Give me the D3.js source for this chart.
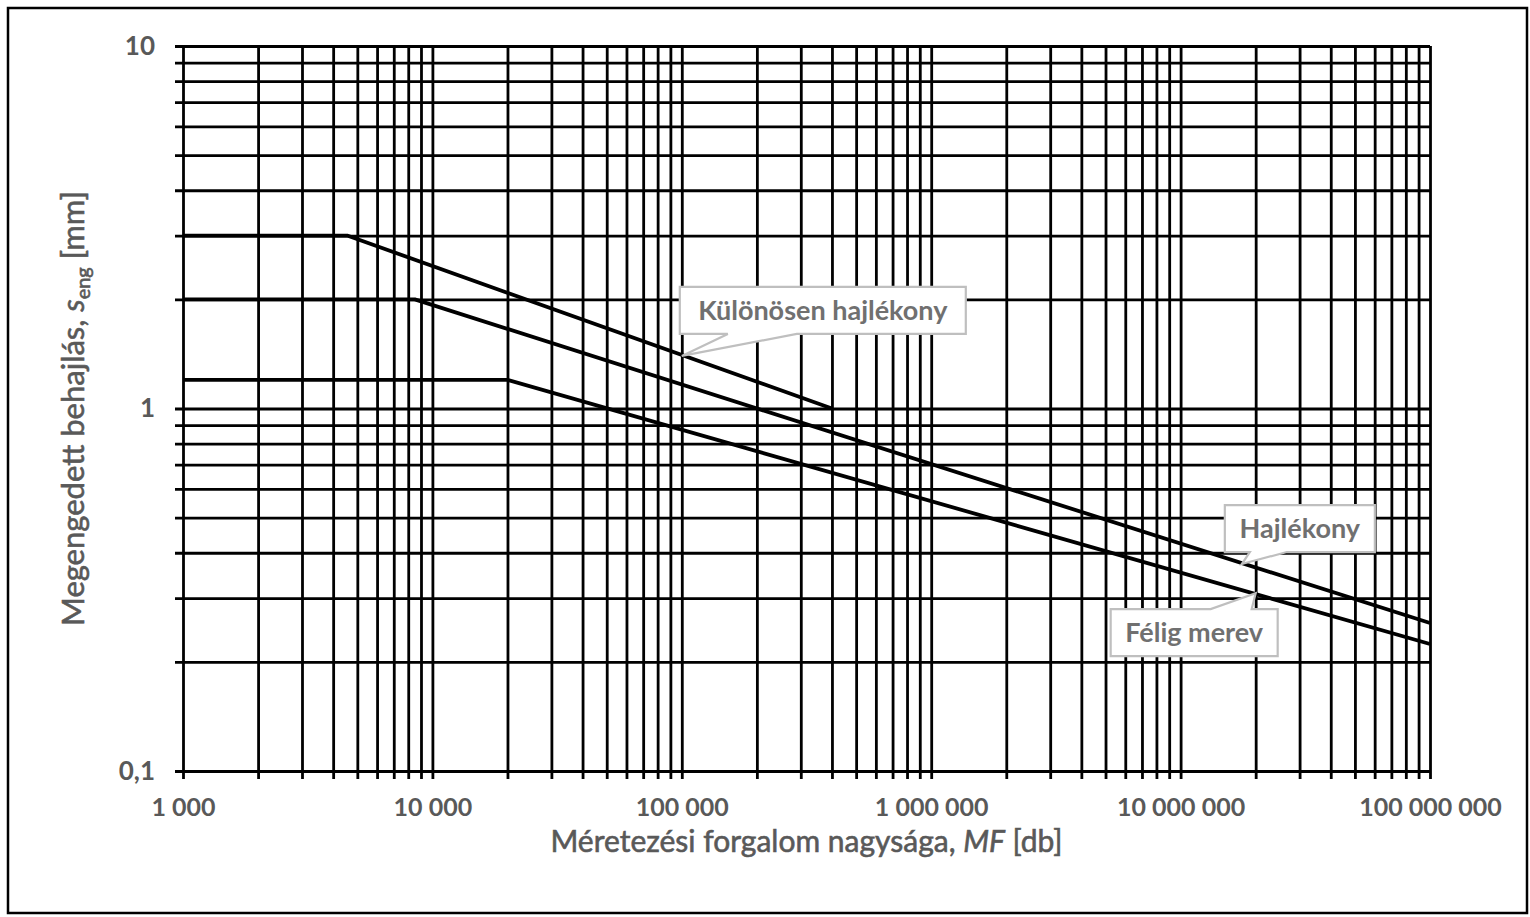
<!DOCTYPE html>
<html>
<head>
<meta charset="utf-8">
<script src="https://cdn.jsdelivr.net/npm/d3@7"></script>
<style>
  html, body { margin: 0; padding: 0; background: #fff; }
  svg { display: block; }
  text { font-family: Lato, "Open Sans", sans-serif; }
</style>
</head>
<body>
<svg id="chart" width="1530" height="917"></svg>
<script>
// ---- data ----
const xTickValues = [1e3, 2e3, 3e3, 4e3, 5e3, 6e3, 7e3, 8e3, 9e3,
  1e4, 2e4, 3e4, 4e4, 5e4, 6e4, 7e4, 8e4, 9e4,
  1e5, 2e5, 3e5, 4e5, 5e5, 6e5, 7e5, 8e5, 9e5,
  1e6, 2e6, 3e6, 4e6, 5e6, 6e6, 7e6, 8e6, 9e6,
  1e7, 2e7, 3e7, 4e7, 5e7, 6e7, 7e7, 8e7, 9e7, 1e8];
const xTickLabels = { 1e3: "1 000", 1e4: "10 000", 1e5: "100 000", 1e6: "1 000 000", 1e7: "10 000 000", 1e8: "100 000 000" };
const yTickValues = [0.1, 0.2, 0.3, 0.4, 0.5, 0.6, 0.7, 0.8, 0.9,
  1, 2, 3, 4, 5, 6, 7, 8, 9, 10];
const yTickLabels = { 0.1: "0,1", 1: "1", 10: "10" };

const seriesNames = ["Különösen hajlékony", "Hajlékony", "Félig merev"];
const kulonosenX = [1000, 4550, 400000];
const kulonosenY = [3, 3, 1];
const hajlekonyX = [1000, 8500, 100000000];
const hajlekonyY = [2, 2, 0.256];
const feligX = [1000, 20000, 100000000];
const feligY = [1.2, 1.2, 0.224];

// callout anchor points (data coords of the tail tips)
const calloutTipX = [100000, 17600000, 20000000];

// ---- layout ----
const svg = d3.select("#chart");
const pL = 183, pR = 1430, pT = 46, pB = 771;
const x = d3.scaleLog().domain([1e3, 1e8]).range([pL, pR]);
const y = d3.scaleLog().domain([0.1, 10]).range([pB, pT]);

// outer frame
svg.append("rect").attr("x", 8).attr("y", 8).attr("width", 1519).attr("height", 905)
  .attr("fill", "none").attr("stroke", "#000").attr("stroke-width", 2.5);

const gridW = 2.8;
const tickOut = 8;
const labelColor = "#595959";

// vertical grid lines (x axis)
const xAxis = d3.axisBottom(x)
  .tickValues(xTickValues)
  .tickSize(-(pB - pT + tickOut))
  .tickPadding(19)
  .tickFormat(d => xTickLabels[d] || "");
const gx = svg.append("g").attr("transform", `translate(0,${pB + tickOut})`).call(xAxis);
gx.select(".domain").remove();
gx.selectAll(".tick line").attr("stroke", "#000").attr("stroke-width", gridW);
gx.selectAll(".tick text").attr("fill", labelColor).attr("font-size", 25).attr("font-weight", "bold");

// horizontal grid lines (y axis)
const yAxis = d3.axisLeft(y)
  .tickValues(yTickValues)
  .tickSize(-(pR - pL + tickOut))
  .tickPadding(20)
  .tickFormat(d => yTickLabels[d] || "");
const gy = svg.append("g").attr("transform", `translate(${pL - tickOut},0)`).call(yAxis);
gy.select(".domain").remove();
gy.selectAll(".tick line").attr("stroke", "#000").attr("stroke-width", gridW);
gy.selectAll(".tick text").attr("fill", labelColor).attr("font-size", 26).attr("font-weight", "bold");

// series lines
const line = d3.line().x(d => x(d[0])).y(d => y(d[1]));
const series = [
  d3.zip(kulonosenX, kulonosenY),
  d3.zip(hajlekonyX, hajlekonyY),
  d3.zip(feligX, feligY)
];
svg.append("g").selectAll("path").data(series).join("path")
  .attr("d", line).attr("fill", "none").attr("stroke", "#000")
  .attr("stroke-width", 3.8).attr("stroke-linejoin", "round");

// value along a series (log-linear interpolation of its points)
function valueAt(s, xv) {
  for (let i = 0; i < s.length - 1; i++) {
    const [x0, y0] = s[i], [x1, y1] = s[i + 1];
    if (xv >= x0 && xv <= x1) {
      const t = (Math.log(xv) - Math.log(x0)) / (Math.log(x1) - Math.log(x0));
      return Math.exp(Math.log(y0) + t * (Math.log(y1) - Math.log(y0)));
    }
  }
  return s[s.length - 1][1];
}

// callouts: box offsets relative to tip (pixels)
const callouts = [
  { name: seriesNames[0], s: series[0], tipX: calloutTipX[0], box: [-2, -69, 286, 47], tail: [46, 115], side: "bottom", fs: 27 },
  { name: seriesNames[1], s: series[1], tipX: calloutTipX[1], box: [-17, -59, 150, 47], tail: [8, 45], side: "bottom", fs: 27 },
  { name: seriesNames[2], s: series[2], tipX: calloutTipX[2], box: [-145, 16, 167, 47], tail: [-45, -4], side: "top", fs: 27 }
];

const cg = svg.append("g");
callouts.forEach(c => {
  const tx = x(c.tipX), ty = y(valueAt(c.s, c.tipX)) + (c.side === "bottom" ? 1 : -1);
  const bx = tx + c.box[0], by = ty + c.box[1], bw = c.box[2], bh = c.box[3];
  let p;
  if (c.side === "bottom") {
    const yb = by + bh;
    p = `M${bx},${by}H${bx + bw}V${yb}H${tx + c.tail[1]}L${tx},${ty}L${tx + c.tail[0]},${yb}H${bx}Z`;
  } else {
    p = `M${bx},${by}H${tx + c.tail[0]}L${tx},${ty}L${tx + c.tail[1]},${by}H${bx + bw}V${by + bh}H${bx}Z`;
  }
  cg.append("path").attr("d", p).attr("fill", "#fff").attr("stroke", "#bfbfbf").attr("stroke-width", 2.2);
  cg.append("text").attr("x", bx + bw / 2).attr("y", by + bh / 2).attr("dy", "0.36em")
    .attr("text-anchor", "middle").attr("font-size", c.fs).attr("font-weight", "bold")
    .attr("fill", "#707070").text(c.name);
});

// axis titles
const xt = svg.append("text").attr("x", (pL + pR) / 2).attr("y", 852)
  .attr("text-anchor", "middle").attr("font-size", 30).attr("fill", labelColor)
  .attr("stroke", labelColor).attr("stroke-width", 0.6);
xt.append("tspan").text("Méretezési forgalom nagysága, ");
xt.append("tspan").attr("font-style", "italic").text("MF");
xt.append("tspan").text(" [db]");

const yt = svg.append("text")
  .attr("transform", `translate(84,${(pT + pB) / 2}) rotate(-90)`)
  .attr("text-anchor", "middle").attr("font-size", 31).attr("fill", labelColor)
  .attr("stroke", labelColor).attr("stroke-width", 0.6);
yt.append("tspan").text("Megengedett behajlás,  ");
yt.append("tspan").attr("font-style", "italic").text("s");
yt.append("tspan").attr("font-size", 20).attr("dy", 6).text("eng");
yt.append("tspan").attr("dy", -6).text(" [mm]");
</script>
</body>
</html>
